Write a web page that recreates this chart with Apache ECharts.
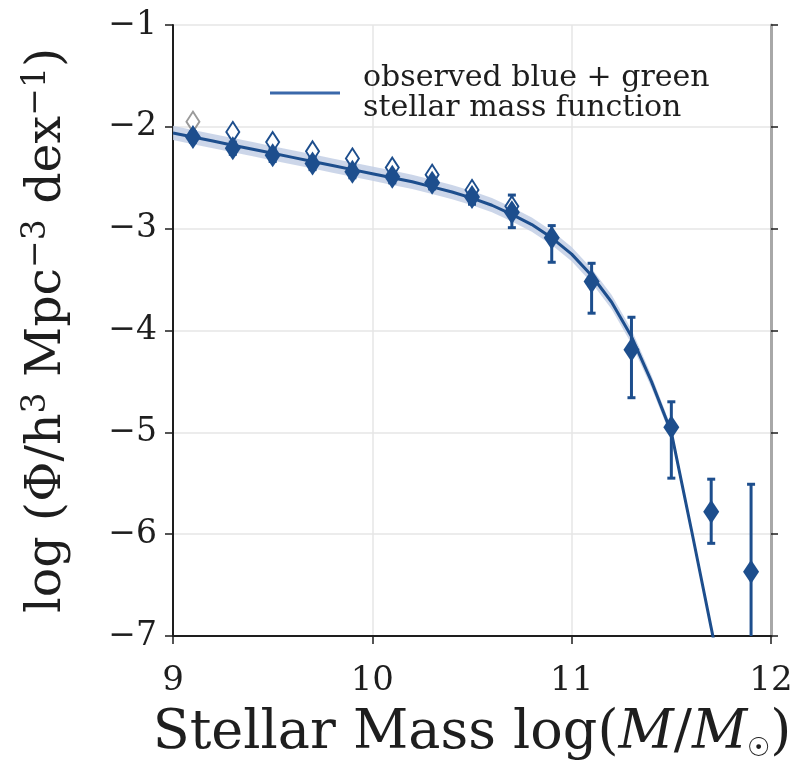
<!DOCTYPE html>
<html><head><meta charset="utf-8">
<script src="https://cdn.jsdelivr.net/npm/echarts@6/dist/echarts.min.js"></script>
<style>html,body{margin:0;padding:0;background:#fff}#c{width:796px;height:767px}</style>
</head><body><div id="c"></div>
<script>
// ---- data ----
var xTicks = [9, 10, 11, 12];
var yTicks = [-7, -6, -5, -4, -3, -2, -1];
var massBins = [9.1, 9.3, 9.5, 9.7, 9.9, 10.1, 10.3, 10.5, 10.7, 10.9, 11.1, 11.3, 11.5, 11.7, 11.9];
var filledVals = [-2.10, -2.21, -2.28, -2.36, -2.44, -2.49, -2.55, -2.69, -2.84, -3.09, -3.52, -4.19, -4.95, -5.78, -6.37];
var errUpper = [-2.05, -2.15, -2.22, -2.30, -2.38, -2.43, -2.49, -2.62, -2.67, -2.97, -3.34, -3.87, -4.70, -5.46, -5.51];
var errLower = [-2.15, -2.27, -2.34, -2.42, -2.50, -2.55, -2.61, -2.76, -2.99, -3.33, -3.83, -4.66, -5.45, -6.09, -7.20];
var openBins = [9.1, 9.3, 9.5, 9.7, 9.9, 10.1, 10.3, 10.5, 10.7];
var openVals = [-1.95, -2.05, -2.15, -2.24, -2.31, -2.40, -2.47, -2.62, -2.78];
var modelX = [9.0, 9.1, 9.2, 9.3, 9.4, 9.5, 9.6, 9.7, 9.8, 9.9, 10.0, 10.1, 10.2, 10.3, 10.4, 10.5, 10.6, 10.7, 10.8, 10.9, 11.0, 11.1, 11.2, 11.3, 11.4, 11.5, 11.6, 11.7, 11.75];
var modelY = [-2.06, -2.10, -2.14, -2.18, -2.22, -2.26, -2.30, -2.34, -2.38, -2.42, -2.46, -2.50, -2.54, -2.59, -2.64, -2.70, -2.77, -2.86, -2.96, -3.09, -3.25, -3.46, -3.72, -4.06, -4.50, -5.00, -5.95, -6.92, -7.40];
var bandHalfWidth = [0.07, 0.07, 0.07, 0.07, 0.07, 0.07, 0.07, 0.07, 0.07, 0.07, 0.07, 0.07, 0.07, 0.07, 0.07, 0.07, 0.07, 0.07, 0.07, 0.07, 0.07, 0.07, 0.07, 0.07, 0.06, 0.05, 0.04, 0.03, 0.03];
var legendName = 'observed blue + green\nstellar mass function';

var BLUE = '#1d4e8d';
var INK = '#1e1e1e';
var SERIF = '"DejaVu Serif", "Liberation Serif", serif';

var filledData = massBins.map(function (x, i) { return [x, filledVals[i]]; });
var openData = openBins.map(function (x, i) {
  return i === 0 ? { value: [x, openVals[i]], itemStyle: { borderColor: '#9a9a9a' } } : [x, openVals[i]];
});
var errData = massBins.map(function (x, i) { return [x, errUpper[i], errLower[i]]; });
var modelData = modelX.map(function (x, i) { return [x, modelY[i]]; });
var bandData = modelX.map(function (x, i) { return [x, modelY[i] + bandHalfWidth[i], modelY[i] - bandHalfWidth[i]]; });

function minusFmt(v) { return String(v).replace('-', '\u2212'); }

var chart = echarts.init(document.getElementById('c'), null, { renderer: 'canvas' });
chart.setOption({
  animation: false,
  backgroundColor: '#fff',
  grid: { left: 173, right: 25, top: 25, bottom: 131 },
  legend: {
    data: [{ name: legendName, icon: 'rect' }],
    left: 265, top: 58,
    itemWidth: 70, itemHeight: 3, itemGap: 0,
    textStyle: { fontFamily: SERIF, fontSize: 30, color: INK, lineHeight: 30, padding: [0, 0, 0, 18] }
  },
  xAxis: {
    type: 'value', min: 9, max: 12, interval: 1,
    name: 'Stellar Mass log({i|M}/{i|M}{s|\u2609})',
    nameLocation: 'middle', nameGap: 70,
    nameTextStyle: {
      fontFamily: SERIF, fontSize: 54, color: INK,
      rich: {
        i: { fontFamily: SERIF, fontSize: 54, fontStyle: 'italic', color: INK },
        s: { fontFamily: SERIF, fontSize: 26, color: INK, padding: [30, 0, 0, 0] }
      }
    },
    axisLine: { show: true, onZero: false, lineStyle: { color: INK, width: 2 } },
    axisTick: { show: true, length: 8, lineStyle: { color: INK, width: 1.5 } },
    axisLabel: { fontFamily: SERIF, fontSize: 34, color: INK, margin: 28 },
    splitLine: { show: true, lineStyle: { color: '#e6e6e6', width: 1.5 } }
  },
  yAxis: [{
    type: 'value', min: -7, max: -1, interval: 1,
    name: 'log (\u03A6/h{p|3} Mpc{p|\u22123} dex{p|\u22121})',
    nameLocation: 'middle', nameGap: 98, nameRotate: 90,
    nameTextStyle: {
      fontFamily: SERIF, fontSize: 49, color: INK,
      rich: { p: { fontFamily: SERIF, fontSize: 33, color: INK, padding: [0, 0, 22, 0] } }
    },
    axisLine: { show: true, onZero: false, lineStyle: { color: INK, width: 2 } },
    axisTick: { show: true, length: 8, lineStyle: { color: INK, width: 1.5 } },
    axisLabel: { fontFamily: SERIF, fontSize: 33, color: INK, margin: 16, formatter: minusFmt },
    splitLine: { show: true, lineStyle: { color: '#e6e6e6', width: 1.5 } }
  }, {
    type: 'value', min: -7, max: -1, interval: 1, position: 'right',
    axisLine: { show: true, onZero: false, lineStyle: { color: '#a8a8a8', width: 3 } },
    axisTick: { show: true, length: 7, lineStyle: { color: INK, width: 1.5 } },
    axisLabel: { show: false },
    splitLine: { show: false }
  }],
  series: [
    {
      type: 'custom', name: 'band', silent: true, z: 1,
      data: [0],
      renderItem: function (params, api) {
        var up = [], lo = [];
        bandData.forEach(function (d) {
          up.push(api.coord([d[0], d[1]]));
          lo.unshift(api.coord([d[0], d[2]]));
        });
        return {
          type: 'polygon',
          shape: { points: up.concat(lo) },
          style: { fill: '#c3cfe5', opacity: 0.85 },
          clipPath: { type: 'rect', shape: { x: params.coordSys.x, y: params.coordSys.y, width: params.coordSys.width, height: params.coordSys.height } }
        };
      }
    },
    {
      type: 'line', name: legendName, data: modelData, showSymbol: false, clip: true, z: 3,
      lineStyle: { color: BLUE, width: 3 }, itemStyle: { color: '#3a68aa' }
    },
    {
      type: 'custom', name: 'err', silent: true, z: 4, data: errData,
      renderItem: function (params, api) {
        var x = api.value(0);
        var top = api.coord([x, api.value(1)]);
        var bot = api.coord([x, api.value(2)]);
        var cs = params.coordSys;
        var bY = Math.min(bot[1], cs.y + cs.height);
        var st = { stroke: BLUE, lineWidth: 3 };
        return {
          type: 'group',
          children: [
            { type: 'line', shape: { x1: top[0], y1: top[1], x2: bot[0], y2: bY }, style: st },
            { type: 'line', shape: { x1: top[0] - 4, y1: top[1], x2: top[0] + 4, y2: top[1] }, style: st },
            { type: 'line', shape: { x1: bot[0] - 4, y1: bot[1], x2: bot[0] + 4, y2: bot[1] }, style: st, invisible: bot[1] > cs.y + cs.height }
          ]
        };
      }
    },
    {
      type: 'scatter', name: 'open', data: openData, z: 5,
      symbol: 'diamond', symbolSize: [13, 20],
      itemStyle: { color: '#fff', borderColor: BLUE, borderWidth: 2, opacity: 1 }
    },
    {
      type: 'scatter', name: 'filled', data: filledData, z: 6,
      symbol: 'diamond', symbolSize: [16, 24],
      itemStyle: { color: BLUE, opacity: 1 }
    }
  ]
});
</script></body></html>
